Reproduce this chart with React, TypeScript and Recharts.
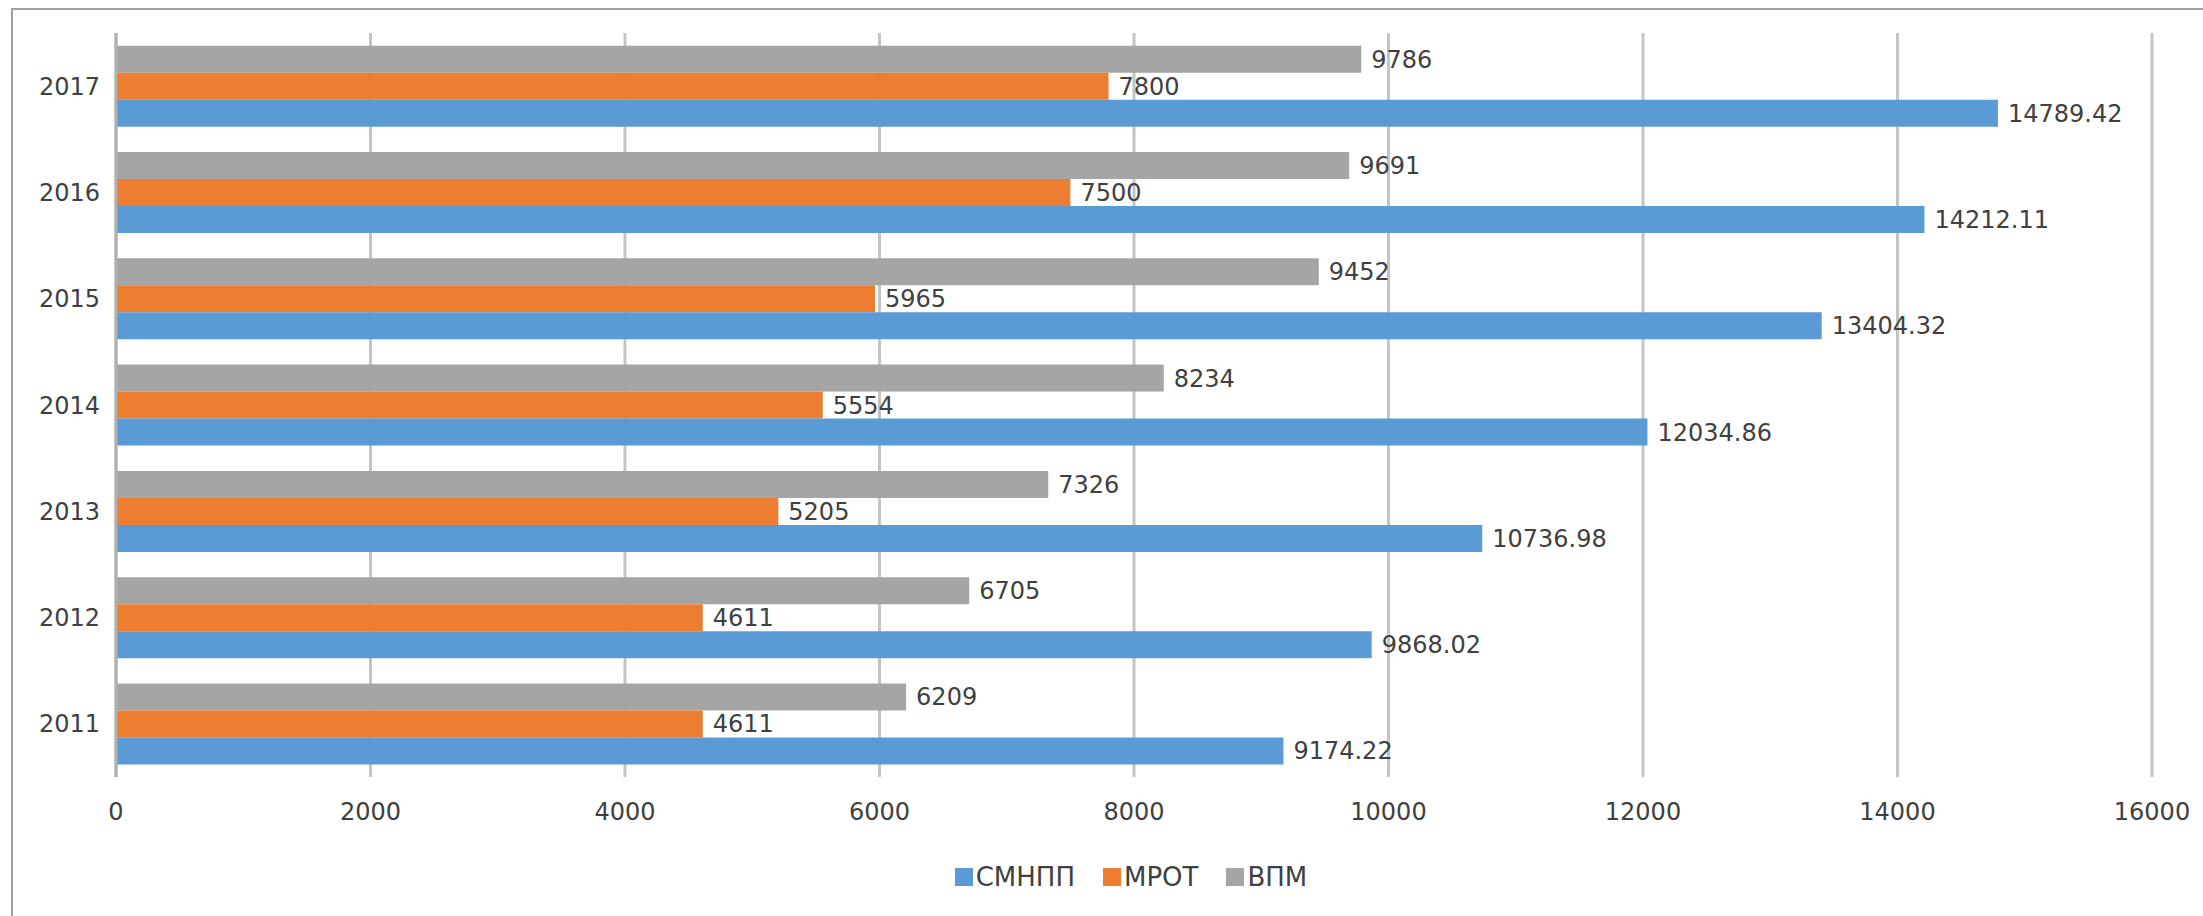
import { BarChart, Bar, XAxis, YAxis, CartesianGrid, LabelList } from 'recharts';

const years = ['2011', '2012', '2013', '2014', '2015', '2016', '2017'];
const smnpp = [9174.22, 9868.02, 10736.98, 12034.86, 13404.32, 14212.11, 14789.42];
const mrot = [4611, 4611, 5205, 5554, 5965, 7500, 7800];
const vpm = [6209, 6705, 7326, 8234, 9452, 9691, 9786];
const xTicks = [0, 2000, 4000, 6000, 8000, 10000, 12000, 14000, 16000];

const FONT = '"DejaVu Sans", sans-serif';
const TEXT = '#404040';

const legendItems = [
    { name: 'СМНПП', color: '#5b9bd5' },
    { name: 'МРОТ', color: '#ed7d31' },
    { name: 'ВПМ', color: '#a5a5a5' },
];

function App() {
    const chartData = years.map((year, i) => ({
        year,
        'СМНПП': smnpp[i],
        'МРОТ': mrot[i],
        'ВПМ': vpm[i],
    }));

    const labelStyle = { fill: TEXT, fontSize: 24, fontFamily: FONT };

    return (
        <div style={{ position: 'absolute', left: 0, top: 0, width: 2203, height: 916, background: '#fff', overflow: 'hidden', fontFamily: FONT }}>
            <div style={{ position: 'absolute', left: 11, top: 8, width: 2400, height: 1200, borderLeft: '2px solid #a0a0a0', borderTop: '2px solid #a0a0a0' }} />
            <div style={{ position: 'absolute', left: 0, top: 0 }}>
                <BarChart
                    width={2203}
                    height={916}
                    data={chartData}
                    layout="vertical"
                    margin={{ top: 33, right: 51, bottom: 79, left: 16 }}
                    barCategoryGap="12%"
                    barGap={0}
                >
                    <CartesianGrid horizontal={false} stroke="#c4c4c4" strokeWidth={3} />
                    <XAxis
                        type="number"
                        domain={[0, 16000]}
                        ticks={xTicks}
                        height={60}
                        axisLine={false}
                        tickLine={false}
                        tickSize={0}
                        tickMargin={26}
                        tick={{ fill: TEXT, fontSize: 24, fontFamily: FONT }}
                    />
                    <YAxis
                        type="category"
                        dataKey="year"
                        reversed
                        width={100}
                        axisLine={{ stroke: '#b0b0b0', strokeWidth: 3 }}
                        tickLine={false}
                        tickSize={0}
                        tickMargin={16}
                        tick={{ fill: TEXT, fontSize: 24, fontFamily: FONT }}
                    />
                    <Bar dataKey="ВПМ" fill="#a5a5a5" isAnimationActive={false}>
                        <LabelList dataKey="ВПМ" position="right" offset={10} style={labelStyle} />
                    </Bar>
                    <Bar dataKey="МРОТ" fill="#ed7d31" isAnimationActive={false}>
                        <LabelList dataKey="МРОТ" position="right" offset={10} style={labelStyle} />
                    </Bar>
                    <Bar dataKey="СМНПП" fill="#5b9bd5" isAnimationActive={false}>
                        <LabelList dataKey="СМНПП" position="right" offset={10} style={labelStyle} />
                    </Bar>
                </BarChart>
            </div>
            <div style={{ position: 'absolute', left: 0, width: 2262, top: 862, display: 'flex', justifyContent: 'center', alignItems: 'center', fontSize: 26, color: TEXT }}>
                {legendItems.map((item) => (
                    <div key={item.name} style={{ display: 'flex', alignItems: 'center', margin: '0 14px' }}>
                        <span style={{ display: 'inline-block', width: 18, height: 18, background: item.color, marginRight: 3 }} />
                        <span>{item.name}</span>
                    </div>
                ))}
            </div>
        </div>
    );
}

export default App;
